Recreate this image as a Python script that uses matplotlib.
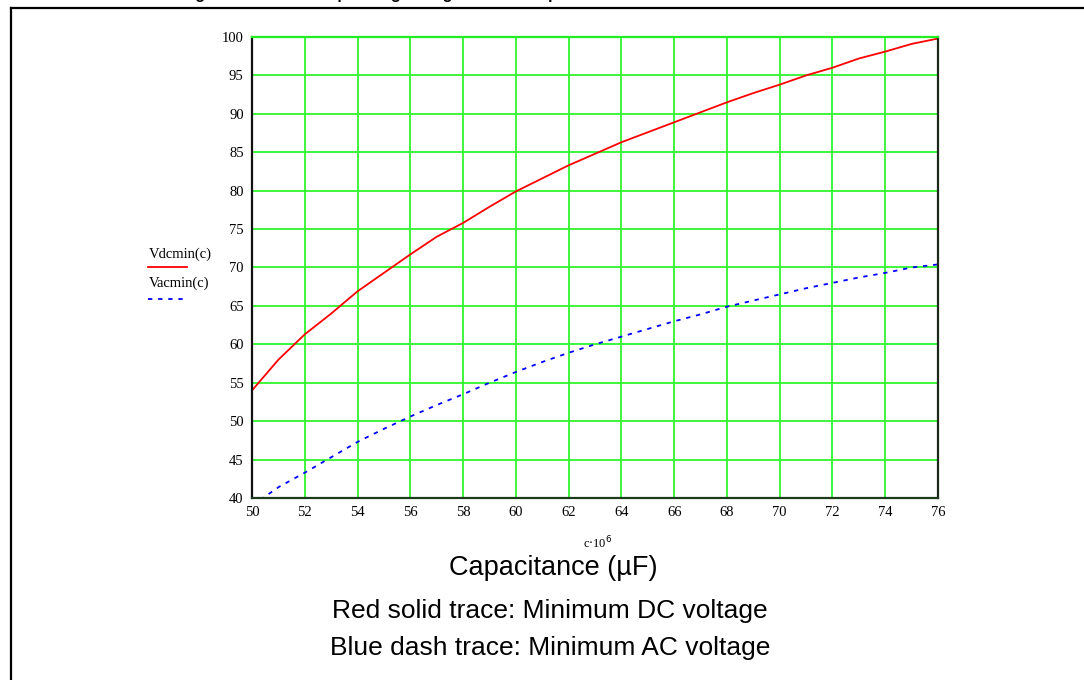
import matplotlib
matplotlib.use("Agg")
import matplotlib.pyplot as plt
from matplotlib.lines import Line2D

# ---- data ----
capacitance = [50, 51, 52, 53, 54, 55, 56, 57, 58, 59, 60, 61, 62, 63,
               64, 65, 66, 67, 68, 69, 70, 71, 72, 73, 74, 75, 76]
vdc_min = [54.0, 58.0, 61.3, 64.0, 66.9, 69.3, 71.7, 74.0, 75.8, 77.9, 79.9,
           81.6, 83.3, 84.8, 86.3, 87.6, 88.9, 90.2, 91.5, 92.7, 93.8, 95.0,
           96.0, 97.2, 98.1, 99.1, 99.8]
vac_min = [39.0, 41.4, 43.3, 45.3, 47.3, 49.0, 50.6, 52.1, 53.5, 55.0, 56.4,
           57.7, 58.9, 60.0, 61.0, 62.0, 63.0, 63.9, 64.9, 65.7, 66.5, 67.3,
           68.0, 68.7, 69.3, 70.0, 70.4]
x_ticks = list(range(50, 77, 2))
y_ticks = list(range(40, 101, 5))
legend_labels = ["Vdcmin(c)", "Vacmin(c)"]
x_unit_label = r"c$\cdot$10$^{6}$"
x_title = "Capacitance (\u00b5F)"
caption_lines = ["Red solid trace: Minimum DC voltage",
                 "Blue dash trace: Minimum AC voltage"]
fig_title = "Figure 7. Minimum operating voltage vs. bulk capacitance"

W, H = 1084, 680
fig = plt.figure(figsize=(W / 100, H / 100), dpi=100)
fig.patch.set_facecolor("white")

def fx(px):
    return px / W

def fy(py):
    return 1 - py / H

# outer frame (left and top edges)
fig.add_artist(Line2D([fx(11), fx(11)], [fy(8), fy(H + 5)], color="black", lw=1.6))
fig.add_artist(Line2D([fx(11), fx(W + 5)], [fy(8), fy(8)], color="black", lw=1.6))

# clipped title above the frame (only descenders visible, as in the reference)
renderer = fig.canvas.get_renderer()
title_kw = dict(fontsize=11.5, fontweight="bold", family="Liberation Sans")
probe = fig.text(0, 0, "Figure 7. Minimum o", **title_kw)
prefix_w = probe.get_window_extent(renderer).width
probe.remove()
probe = fig.text(0, 0, "p", **title_kw)
p_w = probe.get_window_extent(renderer).width
probe.remove()
start_px = 342 - prefix_w - p_w / 2
fig.text(fx(start_px), fy(-1.5), fig_title, ha="left", va="baseline", **title_kw)

# axes
left, right, top, bottom = 252, 938, 37, 498
ax = fig.add_axes([fx(left), fy(bottom), fx(right - left), (bottom - top) / H])
ax.set_xlim(50, 76)
ax.set_ylim(40, 100)
ax.set_xticks(x_ticks)
ax.set_yticks(y_ticks)
ax.grid(True, color="#2ef62e", lw=1.3)
ax.set_axisbelow(True)
ax.tick_params(length=0, pad=6, labelsize=10.5)
for lab in ax.get_xticklabels() + ax.get_yticklabels():
    lab.set_family("Liberation Serif")
ax.spines["left"].set_color("#111111")
ax.spines["bottom"].set_color("#1c3a1c")
ax.spines["right"].set_color("#1c2a1c")
ax.spines["top"].set_color("#22ee22")
for s in ax.spines.values():
    s.set_linewidth(1.6)

ax.plot(capacitance, vdc_min, color="#ff0000", lw=1.3, solid_joinstyle="round")
ax.plot(capacitance, vac_min, color="#0000ff", lw=1.3, linestyle=(0, (2.4, 3.2)))

# manual legend (text above sample line)
fig.text(fx(149), fy(254), legend_labels[0], ha="left", va="center",
         fontsize=10.5, family="Liberation Serif")
fig.add_artist(Line2D([fx(148), fx(187)], [fy(267), fy(267)], color="#ff0000", lw=1.3))
fig.text(fx(149), fy(283), legend_labels[1], ha="left", va="center",
         fontsize=10.5, family="Liberation Serif")
fig.add_artist(Line2D([fx(148), fx(187)], [fy(299), fy(299)], color="#0000ff", lw=1.3,
                      linestyle=(0, (2.4, 3.2))))

# axis unit and titles
fig.text(fx(598), fy(543), x_unit_label, ha="center", va="center",
         fontsize=9, family="Liberation Serif")
fig.text(fx(553), fy(568), x_title, ha="center", va="center",
         fontsize=19.5, family="Liberation Sans")
fig.text(fx(550), fy(611), caption_lines[0], ha="center", va="center",
         fontsize=19, family="Liberation Sans")
fig.text(fx(550), fy(648), caption_lines[1], ha="center", va="center",
         fontsize=19, family="Liberation Sans")

fig.savefig("out.png", dpi=100)
